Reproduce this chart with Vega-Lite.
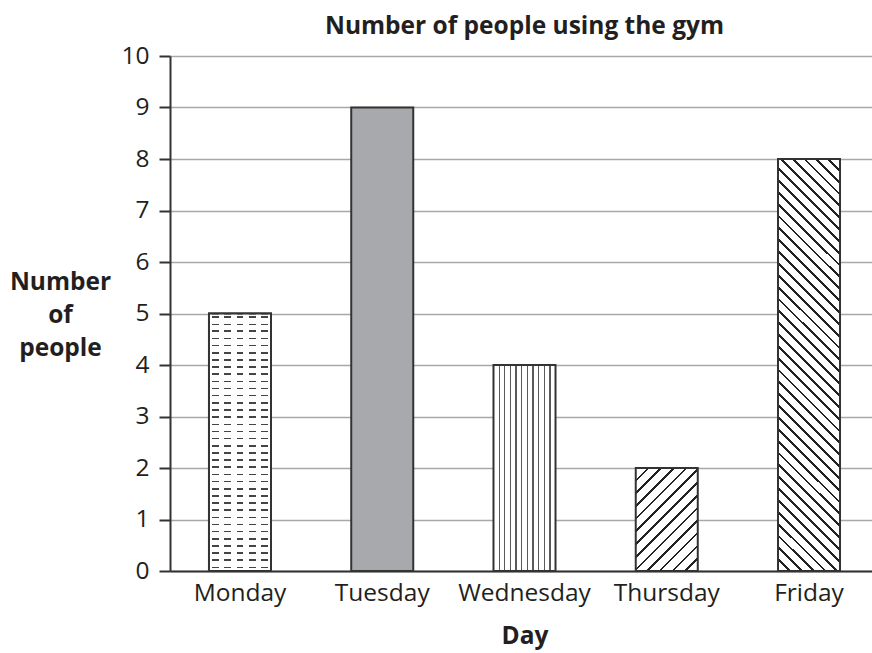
{
  "$schema": "https://vega.github.io/schema/vega-lite/v6.json",
  "autosize": "none",
  "width": 709,
  "height": 515,
  "padding": {"left": 170, "top": 56, "right": 0, "bottom": 82},
  "background": "white",
  "config": {"view": {"stroke": null}, "font": "Open Sans"},
  "title": {"text": "Number of people using the gym", "font": "Open Sans", "fontSize": 24.5, "fontWeight": "bold", "color": "#231f20", "anchor": "middle", "frame": "group", "baseline": "alphabetic", "offset": -15},
  "data": {"values": [
    {"day": "Monday", "people": 5},
    {"day": "Tuesday", "people": 9},
    {"day": "Wednesday", "people": 4},
    {"day": "Thursday", "people": 2},
    {"day": "Friday", "people": 8}
  ]},
  "encoding": {
    "x": {"field": "day", "type": "nominal", "sort": null,
      "scale": {"domain": ["Monday", "Tuesday", "Wednesday", "Thursday", "Friday"], "paddingInner": 0.564, "paddingOuter": 0.274},
      "axis": {"title": "Day", "labelAngle": 0, "ticks": false, "tickSize": 0, "labelFont": "Open Sans", "labelFontSize": 24.5, "labelColor": "#231f20", "labelBaseline": "alphabetic", "labelPadding": 29, "domainColor": "#333333", "domainWidth": 2, "titleFont": "Open Sans", "titleFontSize": 24.5, "titleFontWeight": "bold", "titleColor": "#231f20", "titleBaseline": "alphabetic", "titleY": 72, "grid": false}},
    "y": {"field": "people", "type": "quantitative",
      "scale": {"domain": [0, 10], "nice": false},
      "axis": {"title": ["Number", "of", "people"], "titleAngle": 0, "titleAlign": "center", "titleBaseline": "middle", "titleX": -110, "titleY": 226, "titleLineHeight": 33, "titleFont": "Open Sans", "titleFontSize": 24.5, "titleFontWeight": "bold", "titleColor": "#231f20",
        "values": [0, 1, 2, 3, 4, 5, 6, 7, 8, 9, 10], "labelFont": "Open Sans", "labelFontSize": 24.5, "labelColor": "#231f20", "labelPadding": 10, "tickSize": 11, "tickColor": "#333333", "tickWidth": 2, "domainColor": "#333333", "domainWidth": 2, "grid": true, "gridColor": "#a8a8a8", "gridWidth": 1.5}}
  },
  "layer": [
    {
      "mark": {"type": "bar", "stroke": "#333333", "strokeWidth": 2},
      "encoding": {
        "fill": {
          "condition": [
            {"test": "datum.day === 'Monday'", "value": {"gradient": "linear", "x1": 0, "y1": 0, "x2": 0, "y2": 1, "stops": [
              {"offset": 0, "color": "#ffffff"},
              {"offset": 0.011, "color": "#ffffff"}, {"offset": 0.011, "color": "#444444"}, {"offset": 0.017, "color": "#444444"}, {"offset": 0.017, "color": "#ffffff"},
              {"offset": 0.039, "color": "#ffffff"}, {"offset": 0.039, "color": "#444444"}, {"offset": 0.045, "color": "#444444"}, {"offset": 0.045, "color": "#ffffff"},
              {"offset": 0.066, "color": "#ffffff"}, {"offset": 0.066, "color": "#444444"}, {"offset": 0.072, "color": "#444444"}, {"offset": 0.072, "color": "#ffffff"},
              {"offset": 0.094, "color": "#ffffff"}, {"offset": 0.094, "color": "#444444"}, {"offset": 0.100, "color": "#444444"}, {"offset": 0.100, "color": "#ffffff"},
              {"offset": 0.122, "color": "#ffffff"}, {"offset": 0.122, "color": "#444444"}, {"offset": 0.128, "color": "#444444"}, {"offset": 0.128, "color": "#ffffff"},
              {"offset": 0.150, "color": "#ffffff"}, {"offset": 0.150, "color": "#444444"}, {"offset": 0.156, "color": "#444444"}, {"offset": 0.156, "color": "#ffffff"},
              {"offset": 0.178, "color": "#ffffff"}, {"offset": 0.178, "color": "#444444"}, {"offset": 0.184, "color": "#444444"}, {"offset": 0.184, "color": "#ffffff"},
              {"offset": 0.205, "color": "#ffffff"}, {"offset": 0.205, "color": "#444444"}, {"offset": 0.211, "color": "#444444"}, {"offset": 0.211, "color": "#ffffff"},
              {"offset": 0.233, "color": "#ffffff"}, {"offset": 0.233, "color": "#444444"}, {"offset": 0.239, "color": "#444444"}, {"offset": 0.239, "color": "#ffffff"},
              {"offset": 0.261, "color": "#ffffff"}, {"offset": 0.261, "color": "#444444"}, {"offset": 0.267, "color": "#444444"}, {"offset": 0.267, "color": "#ffffff"},
              {"offset": 0.289, "color": "#ffffff"}, {"offset": 0.289, "color": "#444444"}, {"offset": 0.295, "color": "#444444"}, {"offset": 0.295, "color": "#ffffff"},
              {"offset": 0.316, "color": "#ffffff"}, {"offset": 0.316, "color": "#444444"}, {"offset": 0.322, "color": "#444444"}, {"offset": 0.322, "color": "#ffffff"},
              {"offset": 0.344, "color": "#ffffff"}, {"offset": 0.344, "color": "#444444"}, {"offset": 0.350, "color": "#444444"}, {"offset": 0.350, "color": "#ffffff"},
              {"offset": 0.372, "color": "#ffffff"}, {"offset": 0.372, "color": "#444444"}, {"offset": 0.378, "color": "#444444"}, {"offset": 0.378, "color": "#ffffff"},
              {"offset": 0.400, "color": "#ffffff"}, {"offset": 0.400, "color": "#444444"}, {"offset": 0.406, "color": "#444444"}, {"offset": 0.406, "color": "#ffffff"},
              {"offset": 0.428, "color": "#ffffff"}, {"offset": 0.428, "color": "#444444"}, {"offset": 0.434, "color": "#444444"}, {"offset": 0.434, "color": "#ffffff"},
              {"offset": 0.455, "color": "#ffffff"}, {"offset": 0.455, "color": "#444444"}, {"offset": 0.461, "color": "#444444"}, {"offset": 0.461, "color": "#ffffff"},
              {"offset": 0.483, "color": "#ffffff"}, {"offset": 0.483, "color": "#444444"}, {"offset": 0.489, "color": "#444444"}, {"offset": 0.489, "color": "#ffffff"},
              {"offset": 0.511, "color": "#ffffff"}, {"offset": 0.511, "color": "#444444"}, {"offset": 0.517, "color": "#444444"}, {"offset": 0.517, "color": "#ffffff"},
              {"offset": 0.539, "color": "#ffffff"}, {"offset": 0.539, "color": "#444444"}, {"offset": 0.545, "color": "#444444"}, {"offset": 0.545, "color": "#ffffff"},
              {"offset": 0.566, "color": "#ffffff"}, {"offset": 0.566, "color": "#444444"}, {"offset": 0.572, "color": "#444444"}, {"offset": 0.572, "color": "#ffffff"},
              {"offset": 0.594, "color": "#ffffff"}, {"offset": 0.594, "color": "#444444"}, {"offset": 0.600, "color": "#444444"}, {"offset": 0.600, "color": "#ffffff"},
              {"offset": 0.622, "color": "#ffffff"}, {"offset": 0.622, "color": "#444444"}, {"offset": 0.628, "color": "#444444"}, {"offset": 0.628, "color": "#ffffff"},
              {"offset": 0.650, "color": "#ffffff"}, {"offset": 0.650, "color": "#444444"}, {"offset": 0.656, "color": "#444444"}, {"offset": 0.656, "color": "#ffffff"},
              {"offset": 0.678, "color": "#ffffff"}, {"offset": 0.678, "color": "#444444"}, {"offset": 0.684, "color": "#444444"}, {"offset": 0.684, "color": "#ffffff"},
              {"offset": 0.705, "color": "#ffffff"}, {"offset": 0.705, "color": "#444444"}, {"offset": 0.711, "color": "#444444"}, {"offset": 0.711, "color": "#ffffff"},
              {"offset": 0.733, "color": "#ffffff"}, {"offset": 0.733, "color": "#444444"}, {"offset": 0.739, "color": "#444444"}, {"offset": 0.739, "color": "#ffffff"},
              {"offset": 0.761, "color": "#ffffff"}, {"offset": 0.761, "color": "#444444"}, {"offset": 0.767, "color": "#444444"}, {"offset": 0.767, "color": "#ffffff"},
              {"offset": 0.789, "color": "#ffffff"}, {"offset": 0.789, "color": "#444444"}, {"offset": 0.795, "color": "#444444"}, {"offset": 0.795, "color": "#ffffff"},
              {"offset": 0.816, "color": "#ffffff"}, {"offset": 0.816, "color": "#444444"}, {"offset": 0.822, "color": "#444444"}, {"offset": 0.822, "color": "#ffffff"},
              {"offset": 0.844, "color": "#ffffff"}, {"offset": 0.844, "color": "#444444"}, {"offset": 0.850, "color": "#444444"}, {"offset": 0.850, "color": "#ffffff"},
              {"offset": 0.872, "color": "#ffffff"}, {"offset": 0.872, "color": "#444444"}, {"offset": 0.878, "color": "#444444"}, {"offset": 0.878, "color": "#ffffff"},
              {"offset": 0.900, "color": "#ffffff"}, {"offset": 0.900, "color": "#444444"}, {"offset": 0.906, "color": "#444444"}, {"offset": 0.906, "color": "#ffffff"},
              {"offset": 0.928, "color": "#ffffff"}, {"offset": 0.928, "color": "#444444"}, {"offset": 0.934, "color": "#444444"}, {"offset": 0.934, "color": "#ffffff"},
              {"offset": 0.955, "color": "#ffffff"}, {"offset": 0.955, "color": "#444444"}, {"offset": 0.961, "color": "#444444"}, {"offset": 0.961, "color": "#ffffff"},
              {"offset": 0.983, "color": "#ffffff"}, {"offset": 0.983, "color": "#444444"}, {"offset": 0.989, "color": "#444444"}, {"offset": 0.989, "color": "#ffffff"},
              {"offset": 1, "color": "#ffffff"}
            ]}},
            {"test": "datum.day === 'Wednesday'", "value": {"gradient": "linear", "x1": 0, "y1": 0, "x2": 1, "y2": 0, "stops": [
              {"offset": 0, "color": "#ffffff"},
              {"offset": 0.081, "color": "#ffffff"}, {"offset": 0.081, "color": "#5a5a5a"}, {"offset": 0.101, "color": "#5a5a5a"}, {"offset": 0.101, "color": "#ffffff"},
              {"offset": 0.172, "color": "#ffffff"}, {"offset": 0.172, "color": "#5a5a5a"}, {"offset": 0.192, "color": "#5a5a5a"}, {"offset": 0.192, "color": "#ffffff"},
              {"offset": 0.263, "color": "#ffffff"}, {"offset": 0.263, "color": "#5a5a5a"}, {"offset": 0.283, "color": "#5a5a5a"}, {"offset": 0.283, "color": "#ffffff"},
              {"offset": 0.354, "color": "#ffffff"}, {"offset": 0.354, "color": "#5a5a5a"}, {"offset": 0.374, "color": "#5a5a5a"}, {"offset": 0.374, "color": "#ffffff"},
              {"offset": 0.445, "color": "#ffffff"}, {"offset": 0.445, "color": "#5a5a5a"}, {"offset": 0.465, "color": "#5a5a5a"}, {"offset": 0.465, "color": "#ffffff"},
              {"offset": 0.536, "color": "#ffffff"}, {"offset": 0.536, "color": "#5a5a5a"}, {"offset": 0.556, "color": "#5a5a5a"}, {"offset": 0.556, "color": "#ffffff"},
              {"offset": 0.627, "color": "#ffffff"}, {"offset": 0.627, "color": "#5a5a5a"}, {"offset": 0.647, "color": "#5a5a5a"}, {"offset": 0.647, "color": "#ffffff"},
              {"offset": 0.718, "color": "#ffffff"}, {"offset": 0.718, "color": "#5a5a5a"}, {"offset": 0.738, "color": "#5a5a5a"}, {"offset": 0.738, "color": "#ffffff"},
              {"offset": 0.809, "color": "#ffffff"}, {"offset": 0.809, "color": "#5a5a5a"}, {"offset": 0.829, "color": "#5a5a5a"}, {"offset": 0.829, "color": "#ffffff"},
              {"offset": 0.900, "color": "#ffffff"}, {"offset": 0.900, "color": "#5a5a5a"}, {"offset": 0.920, "color": "#5a5a5a"}, {"offset": 0.920, "color": "#ffffff"},
              {"offset": 1, "color": "#ffffff"}
            ]}},
            {"test": "datum.day === 'Thursday'", "value": {"gradient": "linear", "x1": 0, "y1": 0, "x2": 0.708, "y2": 1.176, "stops": [
              {"offset": 0, "color": "#ffffff"},
              {"offset": 0.069, "color": "#ffffff"}, {"offset": 0.069, "color": "#222222"}, {"offset": 0.085, "color": "#222222"}, {"offset": 0.085, "color": "#ffffff"},
              {"offset": 0.146, "color": "#ffffff"}, {"offset": 0.146, "color": "#222222"}, {"offset": 0.162, "color": "#222222"}, {"offset": 0.162, "color": "#ffffff"},
              {"offset": 0.223, "color": "#ffffff"}, {"offset": 0.223, "color": "#222222"}, {"offset": 0.239, "color": "#222222"}, {"offset": 0.239, "color": "#ffffff"},
              {"offset": 0.300, "color": "#ffffff"}, {"offset": 0.300, "color": "#222222"}, {"offset": 0.316, "color": "#222222"}, {"offset": 0.316, "color": "#ffffff"},
              {"offset": 0.377, "color": "#ffffff"}, {"offset": 0.377, "color": "#222222"}, {"offset": 0.393, "color": "#222222"}, {"offset": 0.393, "color": "#ffffff"},
              {"offset": 0.454, "color": "#ffffff"}, {"offset": 0.454, "color": "#222222"}, {"offset": 0.470, "color": "#222222"}, {"offset": 0.470, "color": "#ffffff"},
              {"offset": 0.531, "color": "#ffffff"}, {"offset": 0.531, "color": "#222222"}, {"offset": 0.547, "color": "#222222"}, {"offset": 0.547, "color": "#ffffff"},
              {"offset": 0.608, "color": "#ffffff"}, {"offset": 0.608, "color": "#222222"}, {"offset": 0.624, "color": "#222222"}, {"offset": 0.624, "color": "#ffffff"},
              {"offset": 0.684, "color": "#ffffff"}, {"offset": 0.684, "color": "#222222"}, {"offset": 0.700, "color": "#222222"}, {"offset": 0.700, "color": "#ffffff"},
              {"offset": 0.761, "color": "#ffffff"}, {"offset": 0.761, "color": "#222222"}, {"offset": 0.777, "color": "#222222"}, {"offset": 0.777, "color": "#ffffff"},
              {"offset": 0.838, "color": "#ffffff"}, {"offset": 0.838, "color": "#222222"}, {"offset": 0.854, "color": "#222222"}, {"offset": 0.854, "color": "#ffffff"},
              {"offset": 0.915, "color": "#ffffff"}, {"offset": 0.915, "color": "#222222"}, {"offset": 0.931, "color": "#222222"}, {"offset": 0.931, "color": "#ffffff"},
              {"offset": 1, "color": "#ffffff"}
            ]}},
            {"test": "datum.day === 'Friday'", "value": {"gradient": "linear", "x1": 0, "y1": 1, "x2": 0.169, "y2": -0.125, "stops": [
              {"offset": 0, "color": "#ffffff"},
              {"offset": 0.022, "color": "#ffffff"}, {"offset": 0.022, "color": "#222222"}, {"offset": 0.028, "color": "#222222"}, {"offset": 0.028, "color": "#ffffff"},
              {"offset": 0.047, "color": "#ffffff"}, {"offset": 0.047, "color": "#222222"}, {"offset": 0.053, "color": "#222222"}, {"offset": 0.053, "color": "#ffffff"},
              {"offset": 0.072, "color": "#ffffff"}, {"offset": 0.072, "color": "#222222"}, {"offset": 0.078, "color": "#222222"}, {"offset": 0.078, "color": "#ffffff"},
              {"offset": 0.097, "color": "#ffffff"}, {"offset": 0.097, "color": "#222222"}, {"offset": 0.103, "color": "#222222"}, {"offset": 0.103, "color": "#ffffff"},
              {"offset": 0.122, "color": "#ffffff"}, {"offset": 0.122, "color": "#222222"}, {"offset": 0.128, "color": "#222222"}, {"offset": 0.128, "color": "#ffffff"},
              {"offset": 0.147, "color": "#ffffff"}, {"offset": 0.147, "color": "#222222"}, {"offset": 0.153, "color": "#222222"}, {"offset": 0.153, "color": "#ffffff"},
              {"offset": 0.172, "color": "#ffffff"}, {"offset": 0.172, "color": "#222222"}, {"offset": 0.178, "color": "#222222"}, {"offset": 0.178, "color": "#ffffff"},
              {"offset": 0.197, "color": "#ffffff"}, {"offset": 0.197, "color": "#222222"}, {"offset": 0.203, "color": "#222222"}, {"offset": 0.203, "color": "#ffffff"},
              {"offset": 0.222, "color": "#ffffff"}, {"offset": 0.222, "color": "#222222"}, {"offset": 0.228, "color": "#222222"}, {"offset": 0.228, "color": "#ffffff"},
              {"offset": 0.247, "color": "#ffffff"}, {"offset": 0.247, "color": "#222222"}, {"offset": 0.253, "color": "#222222"}, {"offset": 0.253, "color": "#ffffff"},
              {"offset": 0.272, "color": "#ffffff"}, {"offset": 0.272, "color": "#222222"}, {"offset": 0.278, "color": "#222222"}, {"offset": 0.278, "color": "#ffffff"},
              {"offset": 0.297, "color": "#ffffff"}, {"offset": 0.297, "color": "#222222"}, {"offset": 0.303, "color": "#222222"}, {"offset": 0.303, "color": "#ffffff"},
              {"offset": 0.322, "color": "#ffffff"}, {"offset": 0.322, "color": "#222222"}, {"offset": 0.328, "color": "#222222"}, {"offset": 0.328, "color": "#ffffff"},
              {"offset": 0.347, "color": "#ffffff"}, {"offset": 0.347, "color": "#222222"}, {"offset": 0.353, "color": "#222222"}, {"offset": 0.353, "color": "#ffffff"},
              {"offset": 0.372, "color": "#ffffff"}, {"offset": 0.372, "color": "#222222"}, {"offset": 0.378, "color": "#222222"}, {"offset": 0.378, "color": "#ffffff"},
              {"offset": 0.397, "color": "#ffffff"}, {"offset": 0.397, "color": "#222222"}, {"offset": 0.403, "color": "#222222"}, {"offset": 0.403, "color": "#ffffff"},
              {"offset": 0.422, "color": "#ffffff"}, {"offset": 0.422, "color": "#222222"}, {"offset": 0.428, "color": "#222222"}, {"offset": 0.428, "color": "#ffffff"},
              {"offset": 0.447, "color": "#ffffff"}, {"offset": 0.447, "color": "#222222"}, {"offset": 0.453, "color": "#222222"}, {"offset": 0.453, "color": "#ffffff"},
              {"offset": 0.472, "color": "#ffffff"}, {"offset": 0.472, "color": "#222222"}, {"offset": 0.478, "color": "#222222"}, {"offset": 0.478, "color": "#ffffff"},
              {"offset": 0.497, "color": "#ffffff"}, {"offset": 0.497, "color": "#222222"}, {"offset": 0.503, "color": "#222222"}, {"offset": 0.503, "color": "#ffffff"},
              {"offset": 0.522, "color": "#ffffff"}, {"offset": 0.522, "color": "#222222"}, {"offset": 0.528, "color": "#222222"}, {"offset": 0.528, "color": "#ffffff"},
              {"offset": 0.547, "color": "#ffffff"}, {"offset": 0.547, "color": "#222222"}, {"offset": 0.553, "color": "#222222"}, {"offset": 0.553, "color": "#ffffff"},
              {"offset": 0.572, "color": "#ffffff"}, {"offset": 0.572, "color": "#222222"}, {"offset": 0.578, "color": "#222222"}, {"offset": 0.578, "color": "#ffffff"},
              {"offset": 0.597, "color": "#ffffff"}, {"offset": 0.597, "color": "#222222"}, {"offset": 0.603, "color": "#222222"}, {"offset": 0.603, "color": "#ffffff"},
              {"offset": 0.622, "color": "#ffffff"}, {"offset": 0.622, "color": "#222222"}, {"offset": 0.628, "color": "#222222"}, {"offset": 0.628, "color": "#ffffff"},
              {"offset": 0.647, "color": "#ffffff"}, {"offset": 0.647, "color": "#222222"}, {"offset": 0.653, "color": "#222222"}, {"offset": 0.653, "color": "#ffffff"},
              {"offset": 0.672, "color": "#ffffff"}, {"offset": 0.672, "color": "#222222"}, {"offset": 0.678, "color": "#222222"}, {"offset": 0.678, "color": "#ffffff"},
              {"offset": 0.697, "color": "#ffffff"}, {"offset": 0.697, "color": "#222222"}, {"offset": 0.703, "color": "#222222"}, {"offset": 0.703, "color": "#ffffff"},
              {"offset": 0.722, "color": "#ffffff"}, {"offset": 0.722, "color": "#222222"}, {"offset": 0.728, "color": "#222222"}, {"offset": 0.728, "color": "#ffffff"},
              {"offset": 0.747, "color": "#ffffff"}, {"offset": 0.747, "color": "#222222"}, {"offset": 0.753, "color": "#222222"}, {"offset": 0.753, "color": "#ffffff"},
              {"offset": 0.772, "color": "#ffffff"}, {"offset": 0.772, "color": "#222222"}, {"offset": 0.778, "color": "#222222"}, {"offset": 0.778, "color": "#ffffff"},
              {"offset": 0.797, "color": "#ffffff"}, {"offset": 0.797, "color": "#222222"}, {"offset": 0.803, "color": "#222222"}, {"offset": 0.803, "color": "#ffffff"},
              {"offset": 0.822, "color": "#ffffff"}, {"offset": 0.822, "color": "#222222"}, {"offset": 0.828, "color": "#222222"}, {"offset": 0.828, "color": "#ffffff"},
              {"offset": 0.847, "color": "#ffffff"}, {"offset": 0.847, "color": "#222222"}, {"offset": 0.853, "color": "#222222"}, {"offset": 0.853, "color": "#ffffff"},
              {"offset": 0.872, "color": "#ffffff"}, {"offset": 0.872, "color": "#222222"}, {"offset": 0.878, "color": "#222222"}, {"offset": 0.878, "color": "#ffffff"},
              {"offset": 0.897, "color": "#ffffff"}, {"offset": 0.897, "color": "#222222"}, {"offset": 0.903, "color": "#222222"}, {"offset": 0.903, "color": "#ffffff"},
              {"offset": 0.922, "color": "#ffffff"}, {"offset": 0.922, "color": "#222222"}, {"offset": 0.928, "color": "#222222"}, {"offset": 0.928, "color": "#ffffff"},
              {"offset": 0.947, "color": "#ffffff"}, {"offset": 0.947, "color": "#222222"}, {"offset": 0.953, "color": "#222222"}, {"offset": 0.953, "color": "#ffffff"},
              {"offset": 0.972, "color": "#ffffff"}, {"offset": 0.972, "color": "#222222"}, {"offset": 0.978, "color": "#222222"}, {"offset": 0.978, "color": "#ffffff"},
              {"offset": 1, "color": "#ffffff"}
            ]}}
          ],
          "value": "#a7a9ac"
        }
      }
    },
    {
      "transform": [{"filter": "datum.day === 'Monday'"}],
      "mark": {"type": "bar", "stroke": "#333333", "strokeWidth": 2, "fill": {"gradient": "linear", "x1": 0, "y1": 0, "x2": 1, "y2": 0, "stops": [
        {"offset": 0, "color": "#ffffff"},
        {"offset": 0.044, "color": "#ffffff"}, {"offset": 0.044, "color": "rgba(255,255,255,0)"}, {"offset": 0.156, "color": "rgba(255,255,255,0)"}, {"offset": 0.156, "color": "#ffffff"},
        {"offset": 0.244, "color": "#ffffff"}, {"offset": 0.244, "color": "rgba(255,255,255,0)"}, {"offset": 0.356, "color": "rgba(255,255,255,0)"}, {"offset": 0.356, "color": "#ffffff"},
        {"offset": 0.444, "color": "#ffffff"}, {"offset": 0.444, "color": "rgba(255,255,255,0)"}, {"offset": 0.556, "color": "rgba(255,255,255,0)"}, {"offset": 0.556, "color": "#ffffff"},
        {"offset": 0.644, "color": "#ffffff"}, {"offset": 0.644, "color": "rgba(255,255,255,0)"}, {"offset": 0.756, "color": "rgba(255,255,255,0)"}, {"offset": 0.756, "color": "#ffffff"},
        {"offset": 0.844, "color": "#ffffff"}, {"offset": 0.844, "color": "rgba(255,255,255,0)"}, {"offset": 0.956, "color": "rgba(255,255,255,0)"}, {"offset": 0.956, "color": "#ffffff"},
        {"offset": 1, "color": "#ffffff"}
      ]}},
      "encoding": {}
    }
  ]
}
